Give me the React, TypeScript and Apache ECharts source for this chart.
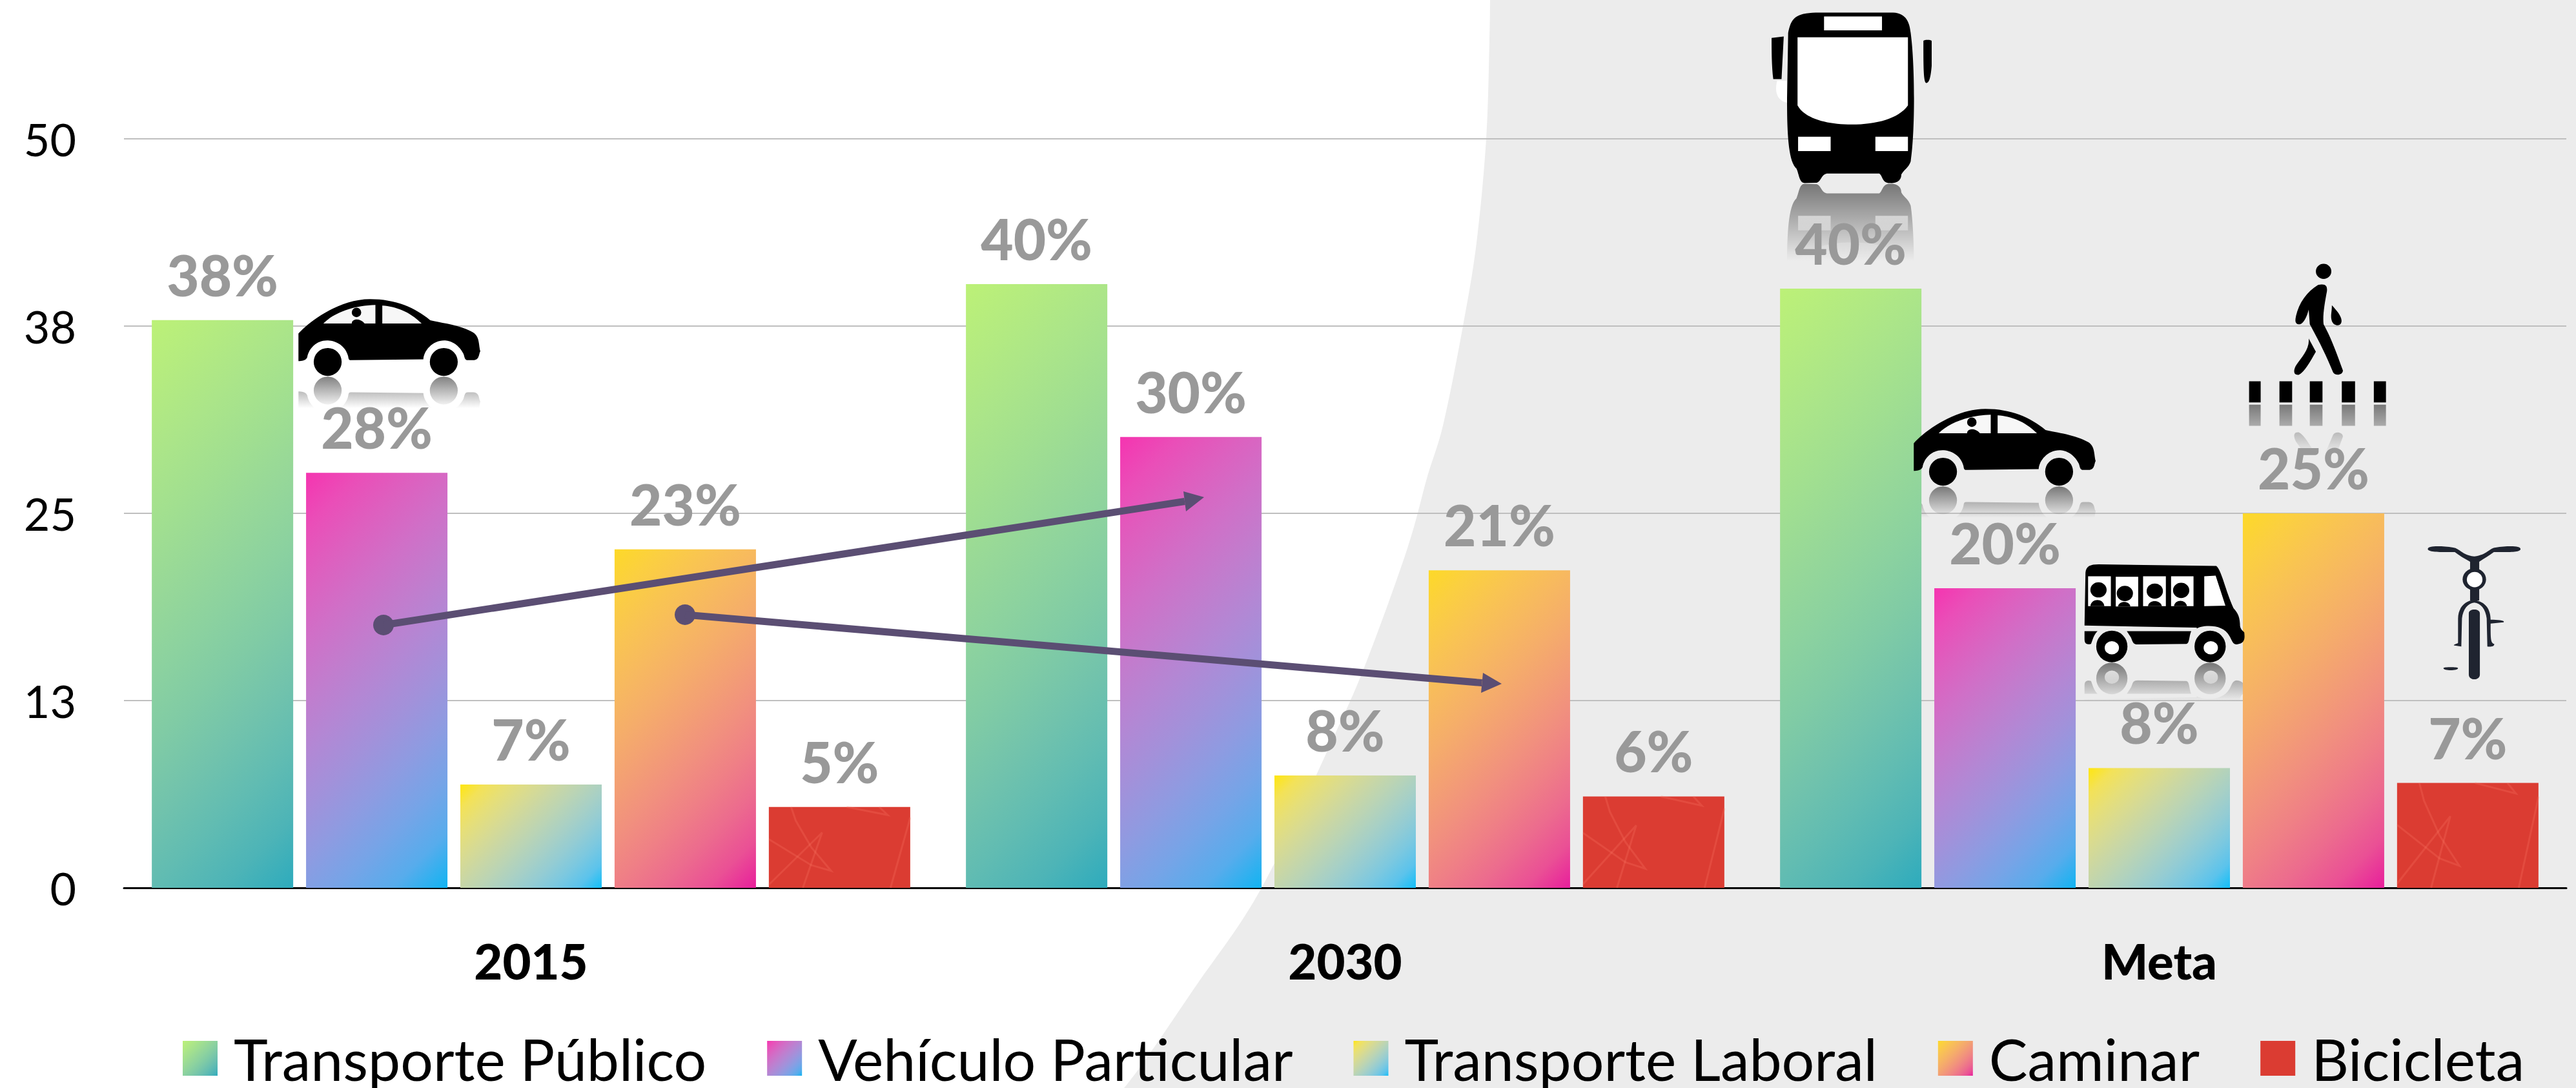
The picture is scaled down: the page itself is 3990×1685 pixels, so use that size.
import React, { useEffect, useRef } from "react";
import * as echarts from "echarts";

const categories = ["2015", "2030", "Meta"];
const transportePublico = [37.9, 40.3, 40];
const vehiculoParticular = [27.7, 30.1, 20];
const transporteLaboral = [6.9, 7.5, 8];
const caminar = [22.6, 21.2, 25];
const bicicleta = [5.4, 6.1, 7];
const seriesNames = ["Transporte Público", "Vehículo Particular", "Transporte Laboral", "Caminar", "Bicicleta"];
const seriesColors = [
  ["#bcf177", "#2dabbd"],
  ["#f534b0", "#10b4f2"],
  ["#ffe60e", "#12bff8"],
  ["#fdd928", "#e81e9c"],
];
const RED = "#db3c32";
const FONT = "Lato";

const W = 3990, H = 1685;
const GRID_L = 192, GRID_R = 3975, GRID_T = 215, GRID_B = 1375;
const BAR_W = 219;
const PX_PER_UNIT = (GRID_B - GRID_T) / 50;

const ell = (cx: number, cy: number, rx: number, ry: number) =>
  `M${cx - rx} ${cy} A${rx} ${ry} 0 1 0 ${cx + rx} ${cy} A${rx} ${ry} 0 1 0 ${cx - rx} ${cy} Z `;
const box = (x0: number, y0: number, x1: number, y1: number) => `M${x0} ${y0} L${x1} ${y0} L${x1} ${y1} L${x0} ${y1} Z `;

let shapeId = 0;
function reg(d: string) {
  const name = "shape" + shapeId++;
  echarts.graphic.registerShape(name, echarts.graphic.extendPath(d as any, {} as any));
  return name;
}

// Grey background edge
const edge: [number, number][] = [
  [2308, -40], [2308, 0], [2307, 64], [2302, 215], [2287, 376], [2266, 505], [2236, 655], [2210, 741], [2180, 849],
  [2118, 1021], [2067, 1139], [1954, 1375], [1853, 1526], [1741, 1685], [1680, 1730],
];
function edgePath() {
  let d = `M${edge[1][0]} ${edge[1][1]} `;
  for (let i = 1; i < edge.length - 2; i++) {
    const p0 = edge[i - 1], p1 = edge[i], p2 = edge[i + 1], p3 = edge[i + 2];
    d += `C${p1[0] + (p2[0] - p0[0]) / 6} ${p1[1] + (p2[1] - p0[1]) / 6} ${p2[0] - (p3[0] - p1[0]) / 6} ${p2[1] - (p3[1] - p1[1]) / 6} ${p2[0]} ${p2[1]} `;
  }
  d += `L${W} ${H} L${W} 0 Z`;
  return d;
}

const BLK = "#000000", WHT = "#ffffff", NAVY = "#1f2430";

const carParts = [
  {
    fill: BLK,
    d:
      "M187 290 C240 230 380 130 520 130 C640 130 730 170 800 228 C850 240 940 250 1000 285 C1030 305 1025 340 1033 372 C1025 385 1030 412 1000 414 L975 414 C960 414 960 400 955 385 C930 335 890 322 865 322 C810 322 770 370 768 410 L430 414 C420 414 420 405 418 395 C405 345 360 322 320 322 C270 322 235 360 228 400 C222 416 200 418 187 418 Z " +
      ell(323, 422, 65, 65) + ell(863, 422, 65, 65),
  },
  { fill: "#f7f7f7", d: "M303 243 C350 195 440 160 545 157 L545 243 Z M577 160 C640 165 700 185 760 243 L577 243 Z" },
  { fill: BLK, d: ell(457, 192, 22, 22) + "M435 243 C435 222 470 215 495 243 Z" },
];
const busParts = [
  {
    fill: BLK,
    d:
      "M140 100 C145 60 150 40 190 38 L330 38 C355 40 360 70 362 100 C370 200 370 400 362 490 C358 510 350 515 345 530 C345 555 330 557 325 556 C310 557 312 535 305 527 L210 527 C200 530 200 550 192 555 L170 556 C160 556 160 530 155 512 C140 490 138 400 138 300 Z " +
      "M110 115 L132 111 L128 240 L113 240 C110 200 110 150 110 115 Z M385 125 C385 120 400 120 400 125 L400 200 C398 240 395 252 390 252 C385 250 385 200 385 125 Z",
  },
  {
    fill: WHT,
    d:
      box(205, 50, 310, 92) + "M157 113 L357 113 L357 320 C340 360 300 378 255 378 C210 378 170 360 157 320 Z " +
      box(158, 415, 217, 459) + box(298, 415, 357, 459) + "M120 245 C115 280 120 305 138 312 L138 245 Z",
  },
];
const vanParts = [
  {
    fill: BLK,
    d:
      "M57 478 L60 270 C62 245 75 238 100 238 L462 244 C478 260 490 340 515 410 C530 430 535 450 535 480 C537 495 545 500 548 505 C550 530 550 548 525 552 C512 552 510 535 503 520 C490 490 465 480 440 480 C420 480 408 485 402 490 L402 486 Z " +
      "M187 500 L385 500 C378 520 380 548 370 550 L220 552 C205 552 205 540 200 525 Z " +
      "M57 500 L97 500 C85 515 82 535 77 550 C60 555 57 545 57 530 Z " +
      ell(141, 560, 48, 62) + ell(443, 560, 48, 62),
  },
  {
    fill: WHT,
    d:
      ell(141, 565, 22, 26) + ell(445, 565, 22, 26) + box(68, 285, 138, 402) + box(153, 287, 222, 403) +
      box(237, 285, 307, 402) + box(323, 285, 392, 402) + "M425 285 L460 282 L490 400 L425 402 Z",
  },
  {
    fill: BLK,
    d:
      ell(100, 338, 25, 30) + "M75 402 C78 370 115 370 118 402 Z " + ell(181, 352, 25, 30) + "M160 403 C163 380 195 380 198 403 Z " +
      ell(273, 343, 25, 30) + "M252 402 C255 376 290 376 295 402 Z " + ell(354, 340, 25, 30) + "M332 402 C335 374 368 374 372 402 Z",
  },
];
const walkerParts = [
  {
    fill: BLK,
    d:
      ell(1110, 824, 14, 23) +
      "M1100 865 C1115 860 1117 870 1116 885 C1112 920 1108 960 1110 985 C1125 1030 1135 1080 1145 1125 C1145 1140 1130 1142 1127 1130 C1115 1080 1100 1030 1085 985 L1083 940 C1080 960 1075 980 1067 985 C1058 985 1058 975 1060 960 C1065 920 1080 885 1100 865 Z " +
      "M1125 927 C1135 945 1145 965 1142 980 C1140 992 1128 990 1125 975 C1122 960 1125 950 1125 927 Z " +
      "M1083 1028 L1096 1068 C1085 1100 1075 1130 1065 1138 C1055 1140 1055 1125 1060 1110 C1070 1085 1085 1060 1083 1028 Z " +
      box(975, 1158, 996, 1222) + box(1030, 1158, 1053, 1222) + box(1085, 1158, 1108, 1222) + box(1143, 1158, 1167, 1222) + box(1201, 1158, 1223, 1222),
  },
];
const bikeParts = [
  { fill: NAVY, d: "M1112 178 C1112 165 1150 165 1190 172 C1210 175 1215 200 1255 207 C1295 200 1300 175 1320 172 C1360 165 1397 165 1397 178 C1397 192 1360 190 1315 190 C1300 205 1285 215 1270 228 L1242 228 C1225 215 1210 205 1195 190 C1160 190 1112 192 1112 178 Z" },
  { fill: NAVY, d: box(1242, 225, 1270, 380) },
  { fill: NAVY, d: ell(1255, 297, 36, 43) },
  { fill: NAVY, d: "M1255 378 C1225 380 1205 410 1205 450 L1205 545 C1205 550 1192 550 1192 556 L1215 560 L1217 450 C1220 415 1235 390 1255 388 C1275 390 1290 415 1293 450 L1295 560 C1305 562 1318 560 1316 550 C1305 545 1305 530 1305 470 L1345 465 C1350 458 1330 455 1305 455 C1305 415 1290 385 1255 378 Z" },
  { fill: WHT, d: ell(1256, 298, 24, 30) },
  { fill: NAVY, d: "M1238 430 C1238 410 1272 410 1272 430 L1272 670 C1272 695 1238 695 1238 670 Z M1160 645 C1160 640 1205 640 1205 645 C1205 656 1160 656 1160 645 Z" },
];

type Icon = { parts: { fill: string; d: string }[]; ox: number; oy: number; sx: number; sy: number; ground?: number; fade?: number };
const xs1 = 1568 / 1340, ys1 = 1568 / 800;
const xs3 = 1568 / 790, ys3 = 1568 / 620;
const icons: Icon[] = [
  { parts: carParts, ox: 400, oy: 420, sx: 1 / 3, sy: 1 / 3, ground: 488, fade: 148 },
  { parts: carParts, ox: 2902, oy: 590, sx: 1 / 3, sy: 1 / 3, ground: 488, fade: 148 },
  { parts: busParts, ox: 2650, oy: 0, sx: 1 / xs1, sy: 1 / ys1, ground: 557, fade: 235 },
  { parts: vanParts, ox: 3200, oy: 780, sx: 1 / xs3, sy: 1 / ys3, ground: 622, fade: 150 },
  { parts: walkerParts, ox: 2650, oy: 0, sx: 1 / xs1, sy: 1 / ys1, ground: 1225, fade: 150 },
  { parts: bikeParts, ox: 3200, oy: 780, sx: 1 / xs3, sy: 1 / ys3 },
];

function buildIconElements() {
  const out: any[] = [];
  for (const ic of icons) {
    for (const p of ic.parts) {
      const name = reg(p.d);
      out.push({ type: name, x: ic.ox, y: ic.oy, scaleX: ic.sx, scaleY: ic.sy, z: 10, silent: true, style: { fill: p.fill } });
      if (ic.ground !== undefined) {
        const white = p.fill !== BLK;
        const rgb = white ? "255,255,255" : "0,0,0";
        const a = white ? 0.9 : 0.5;
        const grad = new echarts.graphic.LinearGradient(
          0, ic.ground - (ic.fade as number), 0, ic.ground,
          [{ offset: 0, color: `rgba(${rgb},0)` }, { offset: 1, color: `rgba(${rgb},${a})` }],
          true
        );
        const my = ic.oy + ic.ground * ic.sy;
        out.push({ type: name, x: ic.ox, y: 2 * my - ic.oy, scaleX: ic.sx, scaleY: -ic.sy, z: 1, silent: true, style: { fill: grad } });
      }
    }
  }
  return out;
}

const ARROW = "#5b4e73";
function arrow(x0: number, y0: number, x1: number, y1: number, b1: [number, number], b2: [number, number]) {
  return [
    { type: "circle", z: 10, silent: true, shape: { cx: x0, cy: y0, r: 16 }, style: { fill: ARROW } },
    { type: "line", z: 10, silent: true, shape: { x1: x0, y1: y0, x2: (b1[0] + b2[0]) / 2, y2: (b1[1] + b2[1]) / 2 }, style: { stroke: ARROW, lineWidth: 11 } },
    { type: "polygon", z: 10, silent: true, shape: { points: [[x1, y1], b1, b2] }, style: { fill: ARROW } },
  ];
}

// Office-style gradients blend in linear light, which keeps the middle of the ramp bright.
const toLin = (c: number) => Math.pow(c / 255, 2.2);
const fromLin = (l: number) => Math.round(255 * Math.pow(l, 1 / 2.2));
const hex = (s: string) => [1, 3, 5].map((k) => parseInt(s.slice(k, k + 2), 16));
function ramp(colors: string[]) {
  const a = hex(colors[0]), b = hex(colors[1]);
  const stops: { offset: number; color: string }[] = [];
  for (let i = 0; i <= 10; i++) {
    const t = i / 10;
    const c = a.map((v, k) => fromLin(toLin(v) * (1 - t) + toLin(b[k]) * t));
    stops.push({ offset: t, color: `rgb(${c[0]},${c[1]},${c[2]})` });
  }
  return stops;
}
function diag(colors: string[], value: number) {
  const w = BAR_W, h = value * PX_PER_UNIT;
  const a = w / (w + h), b = h / (w + h);
  const n = a * a + b * b;
  return new echarts.graphic.LinearGradient(0, 0, a / n, b / n, ramp(colors));
}

const scribbles = [
  [[0.157, 0], [0.19, 0.17], [0.3, 0.5], [0.44, 0.79], [0.3, 0.72], [0, 0.4]],
  [[0.24, 1], [0.376, 0.317], [0, 0.96]],
  [[0.55, 0], [0.84, 0.1], [0.78, 0]],
  [[1, 0.13], [0.86, 1]],
];

export default function App() {
  const ref = useRef<HTMLDivElement>(null);
  useEffect(() => {
    document.body.style.margin = "0";
    document.body.style.background = "#ffffff";
    const chart = echarts.init(ref.current as HTMLDivElement, undefined, { renderer: "svg" });
    const bgShape = reg(edgePath());
    const bars = [transportePublico, vehiculoParticular, transporteLaboral, caminar, bicicleta];
    const label = {
      show: true,
      position: "top",
      distance: 27,
      fontFamily: FONT,
      fontWeight: 900,
      fontSize: 87,
      color: "#999999",
      formatter: (p: any) => Math.round(p.value) + "%",
    };
    const series: any[] = bars.map((vals, i) => ({
      name: seriesNames[i],
      type: "bar",
      barWidth: BAR_W,
      barGap: "9.1%",
      itemStyle: {
        color: i < 4 ? new echarts.graphic.LinearGradient(0, 0, 1, 1, ramp(seriesColors[i])) : RED,
      },
      label,
      data: vals.map((v) => (i < 4 ? { value: v, itemStyle: { color: diag(seriesColors[i], v) } } : { value: v })),
    }));
    series.push({
      name: "Textura",
      type: "custom",
      silent: true,
      z: 3,
      clip: false,
      encode: { x: 0, y: 1 },
      data: bicicleta.map((v, i) => [i, v]),
      renderItem: (_: any, api: any) => {
        const top = api.coord([api.value(0), api.value(1)]);
        const base = api.coord([api.value(0), 0]);
        const left = top[0] + 2 * (BAR_W + 20) - BAR_W / 2;
        return {
          type: "group",
          children: scribbles.map((pts) => ({
            type: "polyline",
            shape: { points: pts.map(([u, v]) => [left + u * BAR_W, top[1] + v * (base[1] - top[1])]) },
            style: { stroke: "rgba(255,125,105,0.24)", fill: null, lineWidth: 3 },
          })),
        };
      },
    });
    chart.setOption({
      animation: false,
      backgroundColor: "#ffffff",
      grid: { left: GRID_L, right: W - GRID_R, top: GRID_T, bottom: H - GRID_B, containLabel: false },
      xAxis: {
        type: "category",
        data: categories,
        axisTick: { show: false },
        axisLine: { lineStyle: { color: "#000000", width: 3 } },
        axisLabel: { fontFamily: FONT, fontWeight: 900, fontSize: 76, color: "#000000", margin: 74 },
      },
      yAxis: {
        type: "value",
        min: 0,
        max: 50,
        interval: 12.5,
        axisLine: { show: false },
        axisTick: { show: false },
        splitLine: { lineStyle: { color: "#bfbfbf", width: 2 } },
        axisLabel: { fontFamily: FONT, fontSize: 70, color: "#000000", margin: 74, formatter: (v: number) => String(Math.round(v)) },
      },
      legend: {
        data: seriesNames,
        left: 283,
        top: 1594,
        padding: 0,
        icon: "rect",
        itemWidth: 54,
        itemHeight: 54,
        itemGap: 94,
        textStyle: { fontFamily: FONT, fontSize: 89.5, lineHeight: 80, color: "#000000", padding: [0, 0, 0, 20] },
      },
      graphic: {
        elements: [
          { type: bgShape, x: 0, y: 0, z: -10, silent: true, style: { fill: "#ececec" } },
          ...buildIconElements(),
          ...arrow(594, 968, 1865, 770, [1833, 761], [1837, 792]),
          ...arrow(1061, 952, 2326, 1059, [2297, 1042], [2294, 1073]),
        ],
      },
      series,
    });
    return () => chart.dispose();
  }, []);
  return <div ref={ref} style={{ width: W, height: H }} />;
}
